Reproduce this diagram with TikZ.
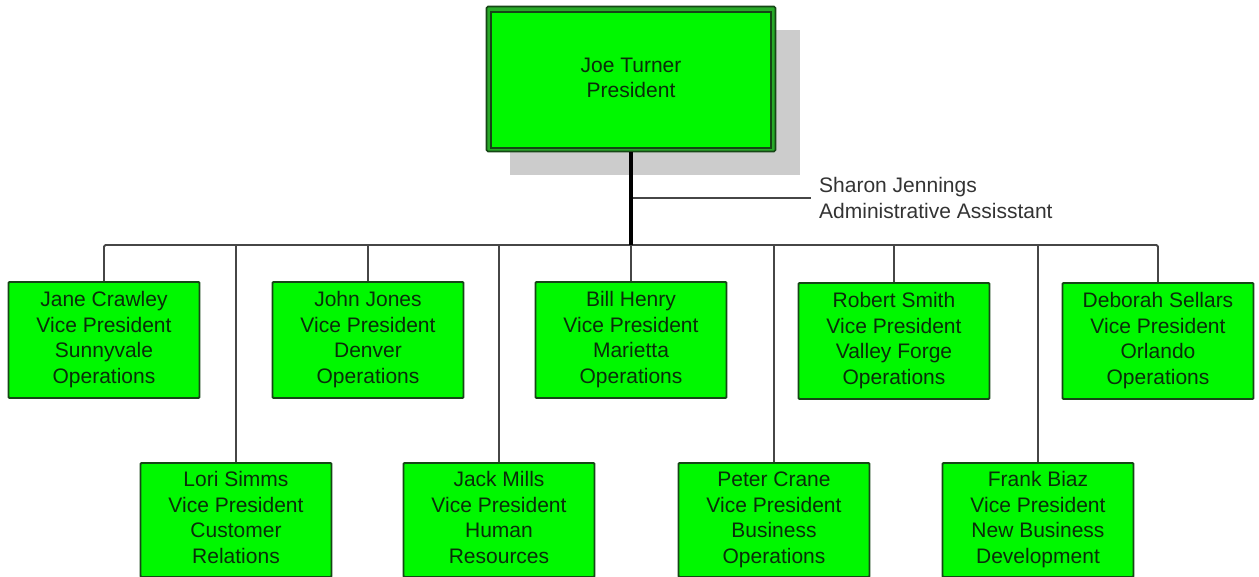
\documentclass[tikz,border=0pt]{standalone}
\usepackage{fontspec}
\setmainfont{Liberation Sans}
\begin{document}
\definecolor{boxgreen}{RGB}{0,248,0}
\definecolor{edgegreen}{RGB}{22,70,22}
\definecolor{rimgreen}{RGB}{40,170,40}
\definecolor{textgreen}{RGB}{10,45,10}
\definecolor{wire}{RGB}{70,70,70}
\definecolor{shadowgray}{RGB}{204,204,204}
\begin{tikzpicture}[x=1pt,y=-1pt,
  vpbox/.style={draw=edgegreen,line width=1.8pt,fill=boxgreen,rounded corners=1pt,
    minimum width=191pt,inner sep=0pt,align=center,text=textgreen,
    font=\fontsize{21}{25.6}\selectfont},
  toprow/.style={vpbox,minimum height=116pt},
  botrow/.style={vpbox,minimum height=114pt},
  conn/.style={draw=wire,line width=1.8pt,line join=round,rounded corners=1.5pt},
  trunk/.style={draw=black,line width=3.6pt}]
\useasboundingbox (0,0) rectangle (1259,577);

% president box with drop shadow and double rim
\fill[shadowgray] (510,30) rectangle (800,175);
\node[draw=edgegreen,line width=1.6pt,fill=rimgreen,rounded corners=1.5pt,
  minimum width=289pt,minimum height=145pt,inner sep=0pt] (presrim) at (631,79) {};
\node[draw=edgegreen,line width=1.4pt,fill=boxgreen,minimum width=280pt,
  minimum height=136pt,inner sep=0pt,align=center,text=textgreen,
  font=\fontsize{21}{25.6}\selectfont] (pres) at (631,80) {\strut Joe Turner\\President\strut};

% top row
\node[toprow] (jane)    at (104,340)  {\strut Jane Crawley\\Vice President\\Sunnyvale\\Operations\strut};
\node[toprow] (john)    at (368,340)  {\strut John Jones\\Vice President\\Denver\\Operations\strut};
\node[toprow] (bill)    at (631,340)  {\strut Bill Henry\\Vice President\\Marietta\\Operations\strut};
\node[toprow] (robert)  at (894,341)  {\strut Robert Smith\\Vice President\\Valley Forge\\Operations\strut};
\node[toprow] (deborah) at (1158,341) {\strut Deborah Sellars\\Vice President\\Orlando\\Operations\strut};

% bottom row
\node[botrow] (lori)  at (236,520)  {\strut Lori Simms\\Vice President\\Customer\\Relations\strut};
\node[botrow] (jack)  at (499,520)  {\strut Jack Mills\\Vice President\\Human\\Resources\strut};
\node[botrow] (peter) at (774,520)  {\strut Peter Crane\\Vice President\\Business\\Operations\strut};
\node[botrow] (frank) at (1038,520) {\strut Frank Biaz\\Vice President\\New Business\\Development\strut};

% assistant
\node[anchor=west,inner xsep=8pt,inner ysep=0pt,align=left,text=black!80,
  font=\fontsize{21}{26}\selectfont] (sharon) at (811,198)
  {Sharon Jennings\\Administrative Assisstant};

\coordinate (bus) at (631,245);
\coordinate (asst) at (631,198);

% connectors
\draw[conn] (jane.north) |- (bus) -| (deborah.north);
\foreach \n in {john,bill,robert,lori,jack,peter,frank}
  \draw[conn] (\n.north) -- (\n.north |- bus);
\draw[conn] (asst) -- (sharon.west);
\draw[trunk] (presrim.south) -- (bus);
\end{tikzpicture}
\end{document}
